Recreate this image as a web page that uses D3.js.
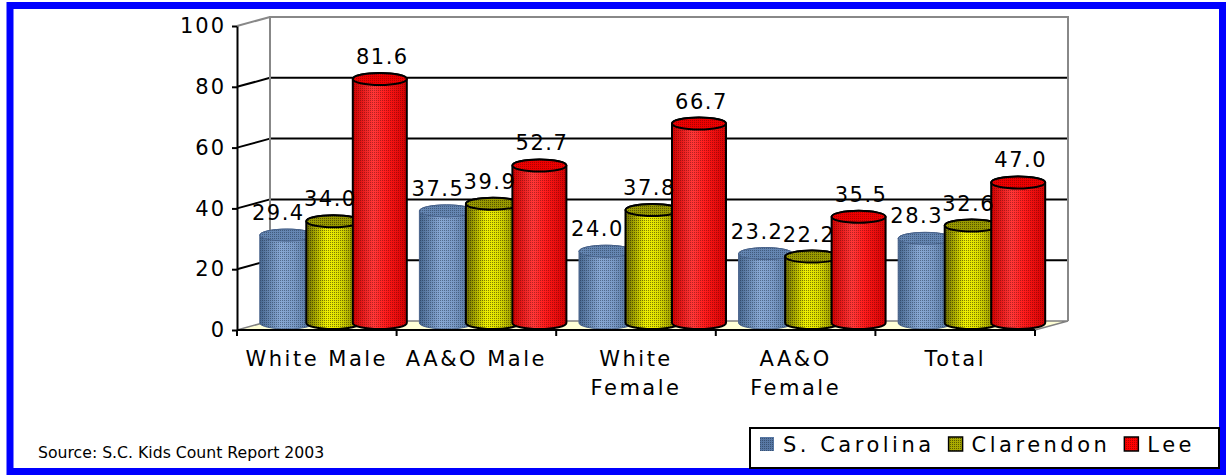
<html>
<head>
    <meta charset="utf-8">
    <script src="https://d3js.org/d3.v7.min.js"></script>
    <title>Kids Count</title>
    <style>
        body { margin: 0; background: #fff; }
        text { font-family: "DejaVu Sans", Verdana, sans-serif; fill: #000; }
    </style>
</head>
<body>
<svg id="chart" width="1226" height="475"></svg>
<script>
    // data
    const categories = ["White Male", "AA&O Male", "White Female", "AA&O Female", "Total"];
    const seriesNames = ["S. Carolina", "Clarendon", "Lee"];
    const scValues = [29.4, 37.5, 24.0, 23.2, 28.3];
    const clarendonValues = [34.0, 39.9, 37.8, 22.2, 32.6];
    const leeValues = [81.6, 52.7, 66.7, 35.5, 47.0];
    const yTicks = [0, 20, 40, 60, 80, 100];
    const sourceNote = "Source: S.C. Kids Count Report 2003";

    const seriesValues = [scValues, clarendonValues, leeValues];

    const svg = d3.select("#chart");
    const defs = svg.append("defs");

    // plot geometry (front plane + 3d depth offset)
    const plot = { left: 237, right: 1035, top: 26, bottom: 330 };
    const depthX = 33, depthY = -9;
    const rx = 27, ry = 6;

    const x = d3.scaleBand().domain(categories).range([plot.left, plot.right]);
    const y = d3.scaleLinear().domain([0, 100]).range([plot.bottom, plot.top]);
    const yBar = d3.scaleLinear().domain([0, 100]).range([323, 24]);
    const inner = d3.scalePoint().domain(seriesNames).range([-46.5, 46.5]);
    // labels sit a little wider apart than the cylinders
    const labelInner = d3.scalePoint().domain(seriesNames).range([-55, 49]);

    const styles = {
        "S. Carolina": { stops: ["#486890", "#88a8d4", "#7c9cc8", "#4c6c94"], top: "#6586b2", dot: "#14243a", stroke: "#48628a", sw: 1, swatch: "#5878a4" },
        "Clarendon":   { stops: ["#6e6e00", "#f0f000", "#dcdc00", "#7a7a00"], top: "#999900", dot: "#000", stroke: "#000", sw: 2, swatch: "#aaaa00" },
        "Lee":         { stops: ["#d00000", "#ff3838", "#ff1a1a", "#d40000"], top: "#ee0000", dot: "#300000", stroke: "#000", sw: 2, swatch: "#ff0000" }
    };
    const dotOpacity = [0.45, 0.45, 0.35];

    seriesNames.forEach((s, i) => {
        const g = defs.append("linearGradient").attr("id", "grad" + i)
            .attr("x1", 0).attr("x2", 1).attr("y1", 0).attr("y2", 0);
        [0, 0.38, 0.62, 1].forEach((o, j) => {
            g.append("stop").attr("offset", o).attr("stop-color", styles[s].stops[j]);
        });
        const p = defs.append("pattern").attr("id", "dots" + i)
            .attr("patternUnits", "userSpaceOnUse").attr("width", 2).attr("height", 2);
        p.append("rect").attr("width", 1).attr("height", 1)
            .attr("fill", styles[s].dot).attr("opacity", dotOpacity[i]);
    });

    // blue outer frame
    svg.append("rect")
        .attr("x", 10).attr("y", 5.5).attr("width", 1212.5).attr("height", 466)
        .attr("fill", "#fff").attr("stroke", "#0000ff").attr("stroke-width", 7);

    // floor
    svg.append("path")
        .attr("d", `M${plot.left},${plot.bottom} L${plot.right},${plot.bottom} L${plot.right + depthX},${plot.bottom + depthY} L${plot.left + depthX},${plot.bottom + depthY} Z`)
        .attr("fill", "#ffffd6").attr("stroke", "#808080").attr("stroke-width", 1.5);

    // gridlines on back + side wall
    yTicks.filter(v => v > 0).forEach(v => {
        const col = v === 100 ? "#888" : "#000";
        svg.append("line")
            .attr("x1", plot.left).attr("y1", y(v))
            .attr("x2", plot.left + depthX).attr("y2", y(v) + depthY)
            .attr("stroke", col).attr("stroke-width", 2);
        if (v < 100) {
            svg.append("line")
                .attr("x1", plot.left + depthX).attr("y1", y(v) + depthY)
                .attr("x2", plot.right + depthX).attr("y2", y(v) + depthY)
                .attr("stroke", col).attr("stroke-width", 2);
        }
    });

    // back wall frame
    svg.append("path")
        .attr("d", `M${plot.left + depthX},${plot.bottom + depthY} V${plot.top + depthY} H${plot.right + depthX} V${plot.bottom + depthY}`)
        .attr("fill", "none").attr("stroke", "#888").attr("stroke-width", 2);

    // cylinders
    const bars = [];
    categories.forEach((c, ci) => {
        seriesNames.forEach((s, si) => {
            bars.push({ cat: c, series: s, si: si, value: seriesValues[si][ci] });
        });
    });

    const groupCenter = d => x(d.cat) + x.bandwidth() / 2 + depthX / 2;
    const cxOf = d => groupCenter(d) + inner(d.series);
    const bodyPath = d => {
        const cx = cxOf(d), yt = yBar(d.value), yb = yBar(0);
        return `M${cx - rx},${yt} L${cx - rx},${yb} A${rx},${ry} 0 0 0 ${cx + rx},${yb} L${cx + rx},${yt} A${rx},${ry} 0 0 0 ${cx - rx},${yt} Z`;
    };

    const barG = svg.selectAll("g.bar")
        .data(bars)
        .join("g")
        .attr("class", "bar");

    barG.append("path")
        .attr("d", bodyPath)
        .attr("fill", d => `url(#grad${d.si})`);
    barG.append("path")
        .attr("d", bodyPath)
        .attr("fill", d => `url(#dots${d.si})`)
        .attr("stroke", d => styles[d.series].stroke)
        .attr("stroke-width", d => styles[d.series].sw);
    barG.append("ellipse")
        .attr("cx", cxOf).attr("cy", d => yBar(d.value))
        .attr("rx", rx).attr("ry", ry)
        .attr("fill", d => styles[d.series].top);
    barG.append("ellipse")
        .attr("cx", cxOf).attr("cy", d => yBar(d.value))
        .attr("rx", rx).attr("ry", ry)
        .attr("fill", d => `url(#dots${d.si})`)
        .attr("stroke", d => styles[d.series].stroke)
        .attr("stroke-width", d => styles[d.series].sw);

    // value labels
    svg.selectAll("text.val")
        .data(bars)
        .join("text")
        .attr("class", "val")
        .attr("x", d => groupCenter(d) + labelInner(d.series))
        .attr("y", d => yBar(d.value) - ry - 9)
        .attr("text-anchor", "middle")
        .attr("font-size", 21)
        .attr("letter-spacing", 1.5)
        .text(d => d.value.toFixed(1));

    // y axis
    const yAxis = svg.append("g")
        .attr("transform", `translate(${plot.left},0)`)
        .call(d3.axisLeft(y).tickValues(yTicks).tickSize(5).tickSizeOuter(0).tickPadding(6));
    yAxis.select(".domain").attr("stroke", "#000").attr("stroke-width", 2);
    yAxis.selectAll(".tick line").attr("stroke", "#000").attr("stroke-width", 2);
    yAxis.selectAll(".tick text")
        .attr("font-size", 21).attr("letter-spacing", 2)
        .style("font-family", '"DejaVu Sans", Verdana, sans-serif').attr("fill", "#000");

    // x axis
    svg.append("line")
        .attr("x1", plot.left).attr("x2", plot.right)
        .attr("y1", plot.bottom).attr("y2", plot.bottom)
        .attr("stroke", "#000").attr("stroke-width", 2);
    const edges = categories.map(c => x(c)).concat([plot.right]);
    svg.selectAll("line.xtick")
        .data(edges)
        .join("line")
        .attr("class", "xtick")
        .attr("x1", d => d).attr("x2", d => d)
        .attr("y1", plot.bottom).attr("y2", plot.bottom + 6)
        .attr("stroke", "#000").attr("stroke-width", 2);

    const catLabels = svg.selectAll("text.cat")
        .data(categories)
        .join("text")
        .attr("class", "cat")
        .attr("x", d => x(d) + x.bandwidth() / 2)
        .attr("y", 366)
        .attr("text-anchor", "middle")
        .attr("font-size", 21)
        .attr("letter-spacing", 2.5)
        .text(d => d);

    // wrap labels that do not fit in their band
    catLabels.each(function (d) {
        const t = d3.select(this);
        if (this.getComputedTextLength() <= x.bandwidth() - 6) return;
        const words = d.split(" ");
        t.text(null);
        words.forEach((w, i) => {
            t.append("tspan")
                .attr("x", x(d) + x.bandwidth() / 2)
                .attr("dy", i === 0 ? 0 : 29)
                .text(w);
        });
    });

    // source note
    svg.append("text")
        .attr("x", 38).attr("y", 458)
        .attr("font-size", 15.7)
        .text(sourceNote);

    // legend
    const legend = svg.append("g");
    legend.append("rect")
        .attr("x", 750).attr("y", 428).attr("width", 469).attr("height", 40)
        .attr("fill", "#fff").attr("stroke", "#000").attr("stroke-width", 2);
    let lx = 760;
    seriesNames.forEach((s, i) => {
        legend.append("rect")
            .attr("x", lx).attr("y", 437).attr("width", 14).attr("height", 14)
            .attr("fill", styles[s].swatch);
        legend.append("rect")
            .attr("x", lx).attr("y", 437).attr("width", 14).attr("height", 14)
            .attr("fill", `url(#dots${i})`)
            .attr("stroke", i === 0 ? "none" : "#000").attr("stroke-width", 1.5);
        const t = legend.append("text")
            .attr("x", lx + 23).attr("y", 452)
            .attr("font-size", 21).attr("letter-spacing", 3.5)
            .text(s);
        lx = lx + 23 + t.node().getComputedTextLength() + 14;
    });
</script>
</body>
</html>
